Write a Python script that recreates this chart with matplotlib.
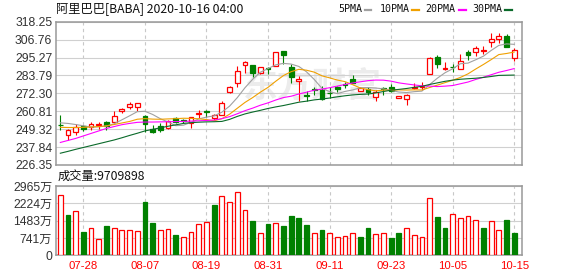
import numpy as np
import pandas as pd
import matplotlib
matplotlib.use("Agg")
import matplotlib.pyplot as plt
from matplotlib.lines import Line2D

# 60 trading sessions, 07-23 .. 10-15
dates = ["07-23", "07-24", "07-27", "07-28", "07-29", "07-30", "07-31",
         "08-03", "08-04", "08-05", "08-06", "08-07", "08-10", "08-11", "08-12",
         "08-13", "08-14", "08-17", "08-18", "08-19", "08-20", "08-21", "08-24",
         "08-25", "08-26", "08-27", "08-28", "08-31", "09-01", "09-02", "09-03",
         "09-04", "09-08", "09-09", "09-10", "09-11", "09-14", "09-15", "09-16",
         "09-17", "09-18", "09-21", "09-22", "09-23", "09-24", "09-25", "09-28",
         "09-29", "09-30", "10-01", "10-02", "10-05", "10-06", "10-07", "10-08",
         "10-09", "10-12", "10-13", "10-14", "10-15"]
tick_days = ["07-28", "08-07", "08-19", "08-31", "09-11", "09-23", "10-05", "10-15"]

open_ = [252.2, 245.6, 247.2, 251.2, 250.7, 251.7, 253.8, 254.1, 260.8, 263.7,
         263.7, 257.8, 249.2, 251.4, 250.1, 256.3, 255.2, 253.4, 258.9, 260.9,
         256.2, 258.7, 273.4, 278.7, 290.5, 290.3, 285.3, 288.4, 290.0, 299.5,
         289.2, 280.4, 271.2, 275.1, 274.5, 272.7, 276.2, 278.3, 281.5, 273.9,
         274.9, 269.8, 275.5, 276.2, 269.1, 268.5, 275.5, 276.2, 284.5, 295.8,
         287.7, 289.4, 287.9, 299.0, 299.0, 299.4, 305.0, 307.2, 309.3, 295.2]
close = [251.7, 248.8, 250.7, 249.6, 252.5, 252.6, 251.5, 257.7, 262.3, 265.3,
         265.9, 252.8, 247.5, 248.6, 254.8, 254.1, 254.3, 256.9, 259.5, 260.5,
         258.1, 266.2, 276.2, 286.6, 292.3, 285.2, 288.9, 287.9, 298.6, 296.9,
         283.1, 281.3, 270.6, 274.3, 268.5, 272.3, 274.9, 277.6, 279.1, 275.5,
         272.9, 273.4, 275.1, 273.8, 270.6, 271.2, 276.2, 276.8, 294.8, 290.9,
         288.7, 289.0, 293.0, 296.9, 301.6, 300.3, 307.1, 309.3, 301.8, 300.1]
high = [258.1, 249.2, 252.5, 251.7, 254.0, 253.9, 254.6, 260.9, 262.7, 266.8,
        265.9, 258.6, 252.0, 253.1, 255.2, 257.3, 255.8, 257.3, 261.6, 261.6,
        259.0, 267.4, 277.2, 289.8, 293.0, 290.3, 289.5, 289.4, 299.0, 299.5,
        290.8, 283.4, 274.1, 276.6, 277.2, 276.2, 277.2, 279.8, 284.0, 276.6,
        276.6, 274.5, 276.6, 278.1, 270.9, 271.9, 278.7, 279.6, 295.9, 296.9,
        292.6, 290.9, 297.3, 300.1, 302.8, 302.8, 310.8, 310.8, 310.2, 301.2]
low = [248.8, 242.4, 245.3, 248.2, 249.1, 249.6, 248.6, 253.9, 259.5, 262.4,
       260.8, 247.7, 246.7, 247.7, 249.4, 253.5, 253.0, 250.3, 256.3, 257.3,
       255.2, 258.6, 272.5, 276.6, 285.2, 282.5, 284.7, 284.7, 289.8, 291.1,
       278.7, 267.6, 267.6, 271.0, 268.0, 269.1, 272.9, 275.5, 278.7, 273.8,
       271.2, 267.4, 271.2, 273.4, 269.0, 264.8, 275.1, 274.4, 284.5, 288.4,
       287.2, 285.8, 287.6, 293.6, 296.2, 297.8, 302.2, 304.4, 301.8, 293.2]

# volume in 万 shares
volume = [2568, 1717, 1887, 993, 1149, 695, 1249, 1149, 1064, 1064,
          1022, 2270, 1376, 1078, 1121, 866, 766, 979, 1320, 1405,
          2143, 2554, 2270, 2724, 1958, 1461, 937, 1334, 1362, 1249,
          1674, 1589, 1291, 937, 1078, 937, 766, 809, 937, 780,
          1163, 894, 937, 738, 951, 1149, 851, 766, 2469, 1632,
          1163, 1788, 1575, 1660, 1490, 1163, 1447, 1078, 1504, 971]

# moving-average values before a full window exists
ma5_head = [253.4, 253.0, 252.3, 251.5]
ma10_head = [250.5, 250.4, 250.4, 250.5, 250.7, 251.0, 251.4, 252.3, 253.3]
ma20_head = [240.8, 242.1, 243.4, 245.0, 246.6, 248.2, 249.8, 251.0, 252.2, 253.0,
             253.7, 253.9, 253.9, 254.0, 254.1, 254.2, 254.3, 254.5, 254.7]
ma30_head = [233.9, 235.1, 236.4, 237.6, 238.8, 240.0, 241.2, 242.4, 243.8, 245.3,
             246.7, 248.2, 249.2, 250.2, 251.2, 252.1, 253.0, 253.5, 253.8, 254.0,
             254.1, 254.3, 255.6, 257.5, 259.1, 260.3, 261.4, 262.6, 263.6]

price_ticks = ["226.35", "237.84", "249.32", "260.81", "272.30",
               "283.79", "295.27", "306.76", "318.25"]
vol_ticks = ["0", "741万", "1483万", "2224万", "2965万"]

RED = "#ff0000"
GREEN = "#008000"
GRID = "#d0d0d0"
SPINE = "#999999"

plt.rcParams["font.family"] = ["Liberation Sans", "Noto Sans CJK SC"]

fig = plt.figure(figsize=(5.78, 2.76), dpi=100)
ax = fig.add_axes([0.0964, 0.4022, 0.8072, 0.5192])
axv = fig.add_axes([0.0964, 0.0750, 0.8072, 0.2511])

x = np.arange(len(dates))
o = np.array(open_)
c = np.array(close)
up = c >= o
col = np.where(up, RED, GREEN)

cs = pd.Series(close)
mas = []
for n, head in [(5, ma5_head), (10, ma10_head), (20, ma20_head), (30, ma30_head)]:
    m = cs.rolling(n).mean().to_numpy()
    m[:n - 1] = head
    mas.append(m)

# watermark
ax.text(0.55, 0.55, "东方财富", transform=ax.transAxes, ha="center", va="center",
        fontsize=25, fontweight="bold", color="#ececec", zorder=0,
        family=["Noto Sans CJK SC"])

# candles
ax.vlines(x, low, high, colors=col, linewidth=0.8, zorder=3)
body_lo = np.minimum(o, c)
body_h = np.maximum(np.abs(c - o), 0.3)
ax.bar(x, body_h, bottom=body_lo, width=0.62, facecolor=np.where(up, "white", GREEN),
       edgecolor=col, linewidth=0.9, zorder=4)

ma_colors = ["#a0a0a0", "#f0a000", "#ff00ff", "#0a6a2a"]
for m, mc in zip(mas, ma_colors):
    ax.plot(x, m, color=mc, linewidth=0.8, zorder=5)

# volume, coloured by close versus previous close
vup = np.r_[True, c[1:] >= c[:-1]]
vcol = np.where(vup, RED, GREEN)
axv.bar(x, volume, width=0.62, facecolor=np.where(vup, "white", GREEN),
        edgecolor=vcol, linewidth=0.9, zorder=3)

tick_pos = [dates.index(d) for d in tick_days]
pmin, pmax = 226.35, 318.25
for a in (ax, axv):
    a.set_xlim(-0.6, 60.05)
    a.set_xticks(tick_pos)
    for xp in tick_pos:
        a.axvline(xp, color="#c8c8c8", linestyle=(0, (3, 3)), linewidth=0.8, zorder=1)
    for s in a.spines.values():
        s.set_color(SPINE)
        s.set_linewidth(1.1)
    a.tick_params(length=0)

ax.set_ylim(pmin, pmax)
ax.set_yticks(np.linspace(pmin, pmax, 9))
ax.set_yticklabels(price_ticks, fontsize=8.7, color="#333333")
ax.tick_params(axis="y", pad=2.5)
ax.set_xticklabels([])
ax.grid(axis="y", color=GRID, linewidth=0.8, zorder=1)

axv.set_ylim(0, 2965)
axv.set_yticks(np.linspace(0, 2965, 5))
axv.set_yticklabels(vol_ticks, fontsize=8.7, color="#333333")
axv.tick_params(axis="y", pad=2.5)
axv.set_xticklabels(tick_days, fontsize=8.2, color=RED)
axv.tick_params(axis="x", pad=4)
axv.grid(axis="y", color=GRID, linewidth=0.8, zorder=1)

fig.text(0.0969, 0.967, "阿里巴巴[BABA] 2020-10-16 04:00", fontsize=8.8,
         va="center", ha="left", color="#111111", family=["Noto Sans CJK SC"])
fig.text(0.0991, 0.3598, "成交量:9709898", fontsize=8.8, va="center", ha="left",
         color="#111111", family=["Noto Sans CJK SC"])

# legend row
legend_items = [("5PMA", 338, 364.7), ("10PMA", 379.7, 412.3),
                ("20PMA", 425.3, 459.0), ("30PMA", 472.0, 505.3)]
W, H = 578.0, 276.0
for (label, tx, dx), mc in zip(legend_items, ma_colors):
    fig.text(tx / W, 1 - 9.3 / H, label, fontsize=7.2, va="center", ha="left",
             color="#111111", family=["DejaVu Sans Mono"])
    fig.add_artist(Line2D([dx / W, (dx + 6.5) / W], [1 - 10 / H, 1 - 10 / H],
                          color=mc, linewidth=1.6, transform=fig.transFigure))

fig.savefig("out.png", dpi=100)
